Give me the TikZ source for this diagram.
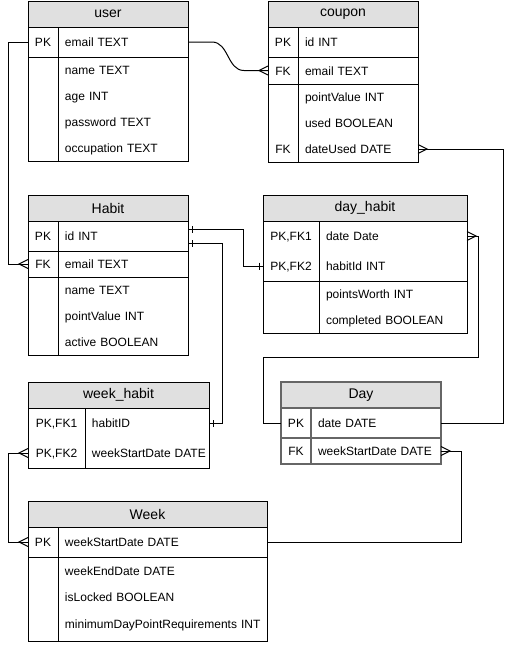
\documentclass[tikz,border=0pt]{standalone}
\usepackage{fontspec}
\setmainfont{Liberation Sans}
\usetikzlibrary{matrix, positioning, arrows.meta}
\definecolor{hdrgray}{HTML}{E0E0E0}

% crow's foot (many) and bar (one) ends
\pgfdeclarearrow{
  name = crow,
  setup code = {
    \pgfarrowssettipend{0pt}
    \pgfarrowssetlineend{0pt}
    \pgfarrowssetbackend{-9pt}
    \pgfarrowssetvisualbackend{-9pt}
    \pgfarrowshullpoint{0pt}{4.5pt}
    \pgfarrowshullpoint{0pt}{-4.5pt}
    \pgfarrowshullpoint{-9pt}{0pt}
  },
  drawing code = {
    \pgfpathmoveto{\pgfqpoint{0pt}{4.5pt}}
    \pgfpathlineto{\pgfqpoint{-9pt}{0pt}}
    \pgfpathlineto{\pgfqpoint{0pt}{-4.5pt}}
    \pgfusepathqstroke
  }
}
\pgfdeclarearrow{
  name = one,
  setup code = {
    \pgfarrowssettipend{0pt}
    \pgfarrowssetlineend{0pt}
    \pgfarrowssetbackend{-5pt}
    \pgfarrowssetvisualbackend{-5pt}
    \pgfarrowshullpoint{-4pt}{3.5pt}
    \pgfarrowshullpoint{-4pt}{-3.5pt}
  },
  drawing code = {
    \pgfpathmoveto{\pgfqpoint{-4pt}{3.5pt}}
    \pgfpathlineto{\pgfqpoint{-4pt}{-3.5pt}}
    \pgfusepathqstroke
  }
}

\tikzset{
  hdr/.style={draw, fill=hdrgray, minimum height=26pt, inner sep=0pt, outer sep=0pt,
    anchor=north west, font=\fontsize{14}{16}\selectfont},
  tbl/.style={matrix of nodes, nodes in empty cells, draw, inner sep=0pt, outer sep=0pt,
    row sep=0pt, column sep=0pt,
    nodes={inner sep=0pt, outer sep=0pt, minimum height=26pt, text height=10.5pt,
      text depth=1.5pt, anchor=center, font=\fontsize{12}{14}\selectfont}},
  keycol/.style={nodes={text width=#1, align=center}},
  fieldcol/.style={nodes={text width=#1, align=left, execute at begin node={\hspace*{7pt}}}},
  tallrow/.style={nodes={minimum height=#1}},
  selected/.style={draw=black!60, line width=1.5pt},
}

\begin{document}
\begin{tikzpicture}[x=1pt, y=-1pt, line width=1pt]
  \useasboundingbox (0,0) rectangle (512,646);

  % user
  \node[hdr, minimum width=160pt] (user) at (28,1) {user};
  \matrix (user-body) [tbl, below=0pt of user,
    column 1/.style={keycol=30pt}, column 2/.style={fieldcol=130pt},
    row 1/.style={tallrow=30pt}]
  {%
    PK & email TEXT \\
       & name TEXT \\
       & age INT \\
       & password TEXT \\
       & occupation TEXT \\
  };
  \draw (user-body-1-1.south west) -- (user-body-1-2.south east);
  \draw (user-body-1-1.north east) -- (user-body-5-1.south east);

  % coupon
  \node[hdr, minimum width=150pt] (coupon) at (268,1) {coupon};
  \matrix (coupon-body) [tbl, below=0pt of coupon,
    column 1/.style={keycol=30pt}, column 2/.style={fieldcol=120pt},
    row 1/.style={tallrow=30pt}, row 2/.style={tallrow=27pt}]
  {%
    PK & id INT \\
    FK & email TEXT \\
       & pointValue INT \\
       & used BOOLEAN \\
    FK & dateUsed DATE \\
  };
  \foreach \r in {1,2}
    \draw (coupon-body-\r-1.south west) -- (coupon-body-\r-2.south east);
  \draw (coupon-body-1-1.north east) -- (coupon-body-5-1.south east);

  % Habit
  \node[hdr, minimum width=160pt] (habit) at (28,195) {Habit};
  \matrix (habit-body) [tbl, below=0pt of habit,
    column 1/.style={keycol=30pt}, column 2/.style={fieldcol=130pt},
    row 1/.style={tallrow=30pt}]
  {%
    PK & id INT \\
    FK & email TEXT \\
       & name TEXT \\
       & pointValue INT \\
       & active BOOLEAN \\
  };
  \foreach \r in {1,2}
    \draw (habit-body-\r-1.south west) -- (habit-body-\r-2.south east);
  \draw (habit-body-1-1.north east) -- (habit-body-5-1.south east);

  % day_habit
  \node[hdr, minimum width=204pt] (dayhabit) at (263,195) {day\_habit};
  \matrix (dayhabit-body) [tbl, below=0pt of dayhabit,
    column 1/.style={keycol=56pt}, column 2/.style={fieldcol=148pt},
    row 1/.style={tallrow=30pt}, row 2/.style={tallrow=30pt}]
  {%
    PK,FK1 & date Date \\
    PK,FK2 & habitId INT \\
           & pointsWorth INT \\
           & completed BOOLEAN \\
  };
  \draw (dayhabit-body-2-1.south west) -- (dayhabit-body-2-2.south east);
  \draw (dayhabit-body-1-1.north east) -- (dayhabit-body-4-1.south east);

  % week_habit
  \node[hdr, minimum width=181pt] (weekhabit) at (28,382) {week\_habit};
  \matrix (weekhabit-body) [tbl, below=0pt of weekhabit,
    column 1/.style={keycol=57pt}, column 2/.style={fieldcol=124pt},
    row 1/.style={tallrow=30pt}, row 2/.style={tallrow=30pt}]
  {%
    PK,FK1 & habitID \\
    PK,FK2 & weekStartDate DATE \\
  };
  \draw (weekhabit-body-1-1.north east) -- (weekhabit-body-2-1.south east);

  % Day
  \node[hdr, selected, minimum width=160pt] (day) at (281,382) {Day};
  \matrix (day-body) [tbl, selected, below=0pt of day,
    column 1/.style={keycol=30pt}, column 2/.style={fieldcol=130pt},
    row 1/.style={tallrow=30pt}]
  {%
    PK & date DATE \\
    FK & weekStartDate DATE \\
  };
  \draw[selected] (day-body-1-1.south west) -- (day-body-1-2.south east);
  \draw[selected] (day-body-1-1.north east) -- (day-body-2-1.south east);

  % Week
  \node[hdr, minimum width=239pt] (week) at (28,501) {Week};
  \matrix (week-body) [tbl, below=0pt of week,
    column 1/.style={keycol=30pt}, column 2/.style={fieldcol=209pt},
    row 1/.style={tallrow=30pt}, row 2/.style={tallrow=27pt},
    row 4/.style={nodes={minimum height=31pt, text depth=4.5pt}}]
  {%
    PK & weekStartDate DATE \\
       & weekEndDate DATE \\
       & isLocked BOOLEAN \\
       & minimumDayPointRequirements INT \\
  };
  \draw (week-body-1-1.south west) -- (week-body-1-2.south east);
  \draw (week-body-1-1.north east) -- (week-body-4-1.south east);

  % relations
  \draw[-crow] (user-body-1-2.east) -- ++(24,0) to[out=0, in=180]
    ([xshift=-24pt]coupon-body-2-1.west) -- (coupon-body-2-1.west);
  \draw[-crow] (user-body-1-1.west) -- ++(-20,0) |- (habit-body-2-1.west);
  \draw[crow-] (coupon-body-5-2.east) -- ++(85,0) |- (day-body-1-2.east);
  \draw[one-one] ([yshift=7pt]habit-body-1-2.east) -- ++(55,0) |- (dayhabit-body-2-1.west);
  \draw[one-one] ([yshift=-7pt]habit-body-1-2.east) -- ++(34,0) |- (weekhabit-body-1-2.east);
  \draw[crow-] (dayhabit-body-1-2.east) -- ++(11,0) -- ++(0,121)
    -| ([xshift=-18pt]day-body-1-1.west) -- (day-body-1-1.west);
  \draw[crow-crow] (weekhabit-body-2-1.west) -- ++(-20,0) |- (week-body-1-1.west);
  \draw[crow-] (day-body-2-2.east) -- ++(20,0) |- (week-body-1-2.east);
\end{tikzpicture}
\end{document}
